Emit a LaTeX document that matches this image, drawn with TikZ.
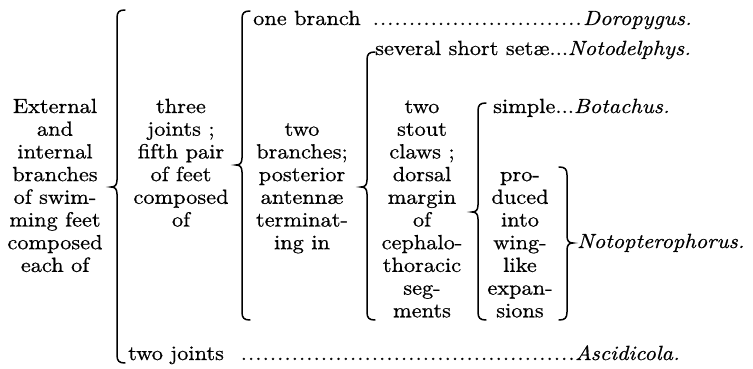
\documentclass[tikz,border=0pt]{standalone}
\usepackage{fontspec}
\setmainfont{lmroman10-regular.otf}[ItalicFont=lmroman10-italic.otf, BoldFont=lmroman10-bold.otf, FakeStretch=1.09, FakeBold=0.7]
\tikzset{
  txt/.style={anchor=base, inner sep=0pt, font=\fontsize{20.5}{22.7}\selectfont},
  txtw/.style={txt, anchor=base west},
  bracepen/.style={line width=1.5pt, line cap=round},
}
% opening brace: x, top, mid, bottom
\newcommand\openbr[4]{%
  \draw[bracepen] (#1+8,#2) .. controls (#1+2,#2) and (#1,#2+2) .. (#1,#2+8)
    -- (#1,#3-7) .. controls (#1,#3-2) and (#1-2,#3) .. (#1-6,#3)
    .. controls (#1-2,#3) and (#1,#3+2) .. (#1,#3+7)
    -- (#1,#4-8) .. controls (#1,#4-2) and (#1+2,#4) .. (#1+8,#4);}
% closing brace: x, top, mid, bottom
\newcommand\closebr[4]{%
  \draw[bracepen] (#1-8,#2) .. controls (#1-2,#2) and (#1,#2+2) .. (#1,#2+8)
    -- (#1,#3-7) .. controls (#1,#3-2) and (#1+2,#3) .. (#1+6,#3)
    .. controls (#1+2,#3) and (#1,#3+2) .. (#1,#3+7)
    -- (#1,#4-8) .. controls (#1,#4-2) and (#1-2,#4) .. (#1-8,#4);}
\newcommand\leaderdots[1]{\hbox to #1{\xleaders\hbox to 7.2pt{\hss.\hss}\hfill}}
\begin{document}
\begin{tikzpicture}[x=1pt, y=-1pt]
\useasboundingbox (0,0) rectangle (753,369);
% column A
\foreach \t [count=\i] in {External,and,internal,branches,of swim-,ming feet,composed,each of}
  \node[txt] (A\i) at (55,{113+22.7*(\i-1)}) {\t};
% column B
\foreach \t [count=\i] in {three,joints ;,fifth pair,of feet,composed,of}
  \node[txt] (B\i) at (181,{113+22.7*(\i-1)}) {\t};
% column C
\foreach \t [count=\i] in {two,branches;,posterior,antennæ,terminat-,ing in}
  \node[txt] (C\i) at (302,{135.7+22.7*(\i-1)}) {\t};
% column D
\foreach \t [count=\i] in {two,stout,claws ;,dorsal,margin,of,cephalo-,thoracic,seg-,ments}
  \node[txt] (D\i) at (422,{113+22.7*(\i-1)}) {\t};
% column E
\foreach \t [count=\i] in {pro-,duced,into,wing-,like,expan-,sions}
  \node[txt] (E\i) at (520,{181.1+22.7*(\i-1)}) {\t};
% right-hand entries
\node[txtw] (onebr) at (253,25) {one branch};
\node[txtw] (lead1) at (372,25) {\leaderdots{210pt}};
\node[txtw] (doro) at (583,25) {\textit{Doropygus.}};
\node[txtw] (setae) at (375,55) {several short setæ...\textit{Notodelphys.}};
\node[txtw] (simple) at (493,113) {simple...\textit{Botachus.}};
\node[txtw] (noto) at (577,248) {\textit{Notopterophorus.}};
\node[txtw] (twoj) at (128,360) {two joints};
\node[txtw] (lead2) at (240,360) {\leaderdots{335pt}};
\node[txtw] (asci) at (575,360) {\textit{Ascidicola.}};
% braces
\openbr{117}{10}{187}{363}
\openbr{242}{11}{165}{320}
\openbr{367}{52}{187}{320}
\openbr{478}{103}{212}{320}
\closebr{567}{167}{243}{320}
\end{tikzpicture}
\end{document}
